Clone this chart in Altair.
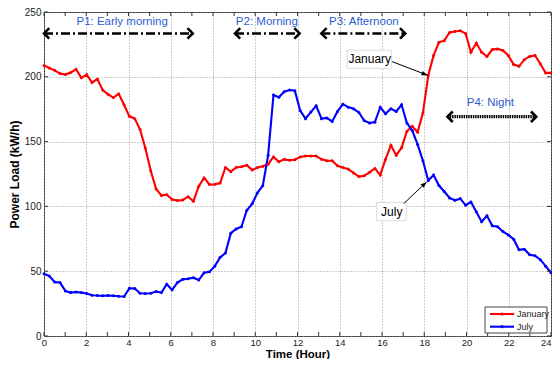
import altair as alt
import pandas as pd

# ---- data (96 samples spread over 0..24 h) ----
january = [208.8, 206.8, 205, 202.5, 201.7, 203.3, 205.8, 199.2, 201.7, 195.6, 198.2, 189.8,
           186.5, 184, 186.8, 178.4, 169.5, 167.7, 159.3, 144.8, 127.5, 113.5, 108.5, 109,
           105.4, 104.5, 105, 107.5, 104, 115.6, 122, 116.9, 117, 118, 130, 126.8,
           130, 130.6, 131.8, 128, 130, 131, 132.6, 138.2, 134.4, 136.3, 135.6, 136,
           138.2, 138.9, 138.9, 138.9, 136.3, 135.2, 135.2, 131.4, 130.1, 128.8, 125.8, 123,
           123.7, 126.3, 129.3, 124.2, 136.4, 147.1, 139.5, 145.3, 158, 161.8, 157.3, 172,
           201, 216.5, 226.6, 227.9, 234.2, 235, 235.5, 233.5, 219, 226.1, 219, 215.7,
           221, 221.5, 220.3, 216.5, 209.4, 208.1, 213.2, 215.7, 216.5, 210.1, 203, 203]
july = [48, 46.2, 41.7, 41.2, 34.8, 33.5, 34, 33.5, 32.8, 31.5, 31.2, 31,
        31.2, 31, 30.7, 30.5, 36.8, 36.6, 33, 32.8, 33, 34.3, 33.5, 39.9,
        35.6, 41.2, 43.7, 44.2, 45, 43.2, 48.8, 49.5, 53.9, 60.7, 64, 79.3,
        82.6, 84.3, 97, 102, 110.5, 116, 139.5, 186, 184.2, 188.5, 189.8, 189.3,
        174, 167.7, 172.8, 177.6, 167.7, 168.3, 165.6, 173.3, 178.9, 176.6, 175.3, 172.5,
        166.2, 164.4, 165, 176.5, 171.5, 175.3, 173.3, 178.4, 164.4, 158.5, 147.9, 135.2,
        120, 124.2, 116.1, 111.5, 106.5, 104.7, 106, 100.9, 103.4, 95.8, 88.2, 92.8,
        85.1, 84.3, 80.6, 78, 74.7, 66.5, 67, 62.7, 62, 58.9, 53.9, 48.8]
hours = [round(i * 24 / (len(january) - 1), 4) for i in range(len(january))]

months = ["January", "July"]
month_colors = ["#ff0000", "#0000ff"]

x_ticks = list(range(0, 25))
y_ticks = [0, 50, 100, 150, 200, 250]

period_labels = ["P1: Early morning", "P2: Morning", "P3: Afternoon", "P4: Night"]
period_start = [0, 9.04, 13.13, 19.1]
period_end = [7.04, 12.1, 17.1, 23.3]
period_arrow_y = [233.5, 233.5, 233.5, 169.2]
period_label_x = [3.7, 10.55, 15.14, 21.13]
period_label_y = [242.5, 242.5, 242.5, 180]
period_style = ["dashdot", "dashdot", "dashdot", "dotted"]

note_labels = ["January", "July"]
note_text_x = [15.42, 16.46]
note_text_y = [213.4, 96]
note_box_x0 = [14.35, 15.75]
note_box_x1 = [16.45, 17.15]
note_box_y0 = [206.5, 89]
note_box_y1 = [220.5, 103]
note_tail_x = [16.48, 17.03]
note_tail_y = [211.7, 102.1]
note_tip_x = [18.16, 18.11]
note_tip_y = [201.2, 118.9]
note_angle = [21, 316]

# ---- tables ----
series = pd.DataFrame({
    "hour": hours * 2,
    "load": january + july,
    "month": ["January"] * len(january) + ["July"] * len(july),
})
periods = pd.DataFrame({
    "label": period_labels, "x0": period_start, "x1": period_end,
    "ay": period_arrow_y, "lx": period_label_x, "ly": period_label_y, "style": period_style,
})
notes = pd.DataFrame({
    "label": note_labels, "tx": note_text_x, "ty": note_text_y,
    "bx0": note_box_x0, "bx1": note_box_x1, "by0": note_box_y0, "by1": note_box_y1,
    "x0": note_tail_x, "y0": note_tail_y, "x1": note_tip_x, "y1": note_tip_y,
    "angle": note_angle,
})
xt = pd.DataFrame({"x": x_ticks})
yt = pd.DataFrame({"y": y_ticks})

W, H = 507, 324
xs = alt.Scale(domain=[0, 24], nice=False, zero=False)
ys = alt.Scale(domain=[0, 250], nice=False)
cs = alt.Scale(domain=months, range=month_colors)

base = alt.Chart(series)
lines = base.mark_line(strokeWidth=2.1).encode(
    x=alt.X("hour:Q", scale=xs,
            axis=alt.Axis(values=x_ticks, title="Time (Hour)", format="d",
                          labelAlign={"expr": "datum.value == 24 ? 'right' : 'center'"})),
    y=alt.Y("load:Q", scale=ys,
            axis=alt.Axis(values=y_ticks, title="Power Load (kW/h)")),
    color=alt.Color("month:N", scale=cs, legend=None),
)
dots = base.mark_point(filled=True, size=9, opacity=1).encode(
    x="hour:Q", y="load:Q", color=alt.Color("month:N", scale=cs, legend=None),
)

# inward ticks (MATLAB style)
xtick_b = alt.Chart(xt).mark_rule(color="#333").encode(x="x:Q", y=alt.value(H), y2=alt.value(H - 4))
xtick_t = alt.Chart(xt).mark_rule(color="#333").encode(x="x:Q", y=alt.value(0), y2=alt.value(4))
ytick_l = alt.Chart(yt).mark_rule(color="#333").encode(y="y:Q", x=alt.value(0), x2=alt.value(4))
ytick_r = alt.Chart(yt).mark_rule(color="#333").encode(y="y:Q", x=alt.value(W), x2=alt.value(W - 4))

pc = alt.Chart(periods)
p_dashdot = pc.transform_filter("datum.style == 'dashdot'").mark_rule(
    color="black", strokeWidth=2.5, strokeDash=[9, 3, 2, 3]).encode(
    x="x0:Q", x2="x1:Q", y="ay:Q")
p_dotted = pc.transform_filter("datum.style == 'dotted'").mark_rule(
    color="black", strokeWidth=3.2, strokeDash=[1.5, 0.8]).encode(
    x="x0:Q", x2="x1:Q", y="ay:Q")
head_l = pc.mark_point(shape="M 1 -1 L 0 0 L 1 1", size=110, filled=False,
                       color="black", strokeWidth=2.6, opacity=1).encode(x="x0:Q", y="ay:Q")
head_r = pc.mark_point(shape="M -1 -1 L 0 0 L -1 1", size=110, filled=False,
                       color="black", strokeWidth=2.6, opacity=1).encode(x="x1:Q", y="ay:Q")
p_text = pc.mark_text(font="Liberation Sans", fontSize=11.5, color="#2e5bd0").encode(
    x="lx:Q", y="ly:Q", text="label:N")

nc = alt.Chart(notes)
n_box = nc.mark_rect(fill="white", stroke="#dddddd", strokeWidth=1).encode(
    x="bx0:Q", x2="bx1:Q", y="by0:Q", y2="by1:Q")
n_line = nc.mark_rule(color="black", strokeWidth=1).encode(
    x="x0:Q", y="y0:Q", x2="x1:Q", y2="y1:Q")
n_head = nc.mark_point(shape="M 0 0 L -1 -0.38 L -1 0.38 Z", size=150, filled=True,
                       color="black", opacity=1).encode(
    x="x1:Q", y="y1:Q", angle=alt.Angle("angle:Q", scale=None))
n_text = nc.mark_text(font="Liberation Sans", fontSize=12, color="black").encode(
    x="tx:Q", y="ty:Q", text="label:N")

# legend box drawn in the lower right corner of the plot
leg_x0, leg_x1 = W - 66, W - 4
leg_y0, leg_y1 = H - 29, H - 3
leg_layers = [
    alt.Chart(pd.DataFrame({"m": ["box"]})).mark_rect(
        fill="white", stroke="#444", strokeWidth=1).encode(
        x=alt.value(leg_x0), x2=alt.value(leg_x1), y=alt.value(leg_y0), y2=alt.value(leg_y1))
]
for i, (m, c) in enumerate(zip(months, month_colors)):
    row_y = leg_y0 + 7 + i * 12.7
    d = alt.Chart(pd.DataFrame({"month": [m]}))
    leg_layers.append(d.mark_rule(color=c, strokeWidth=2.1).encode(
        x=alt.value(leg_x0 + 5), x2=alt.value(leg_x0 + 29), y=alt.value(row_y)))
    leg_layers.append(d.mark_point(filled=True, color=c, size=10, opacity=1).encode(
        x=alt.value(leg_x0 + 17), y=alt.value(row_y)))
    leg_layers.append(d.mark_text(align="left", baseline="middle", font="Liberation Sans",
                                  fontSize=9, color="#222").encode(
        x=alt.value(leg_x0 + 32), y=alt.value(row_y), text="month:N"))

chart = alt.layer(
    lines, dots, xtick_b, xtick_t, ytick_l, ytick_r,
    p_dashdot, p_dotted, head_l, head_r, p_text,
    n_box, n_line, n_head, n_text, *leg_layers,
).properties(
    width=W, height=H,
    autosize=alt.AutoSizeParams(type="none"),
    padding={"left": 36, "top": 4, "right": 1, "bottom": 23},
    background="white",
).configure_view(
    stroke="#333", strokeWidth=1,
).configure_axis(
    grid=True, gridColor="#999", gridDash=[1, 2], gridWidth=1,
    domain=False, ticks=False,
    labelFont="Liberation Sans", labelFontSize=10, labelColor="#222",
    titleFont="Liberation Sans", titleFontSize=12, titleFontWeight="bold", titleColor="black",
).configure_axisX(
    titleY=21, titleBaseline="alphabetic", titleFontSize=11.5,
    labelFlush=False, labelPadding=1.5, labelFontSize=9.5,
).configure_axisY(
    titlePadding=3, labelFlush=False, labelPadding=3,
)

chart.save("out.html", embed_options={"renderer": "svg", "actions": False})
